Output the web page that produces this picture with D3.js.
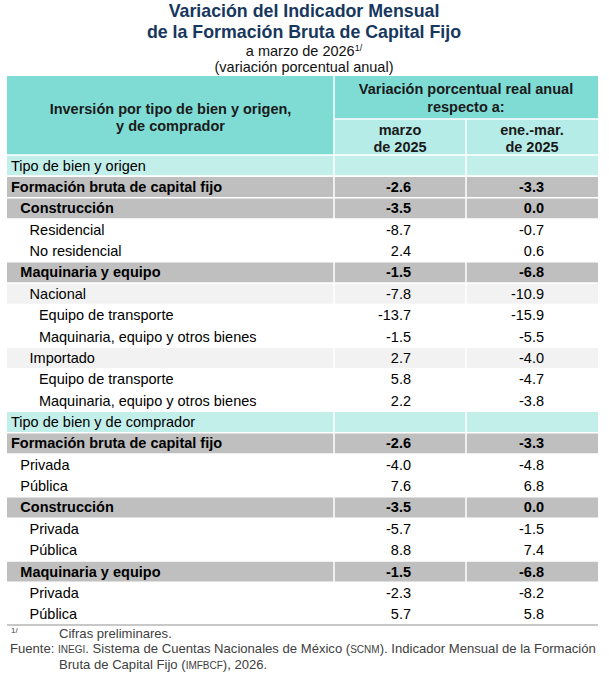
<!DOCTYPE html>
<html>
<head>
<meta charset="utf-8">
<script src="https://cdn.jsdelivr.net/npm/d3@7"></script>
<style>
  body { margin: 0; background: #fff; }
  svg text { font-family: "Liberation Sans", Arial, sans-serif; }
</style>
</head>
<body>
<div id="chart"></div>
<script>
// row labels, indent level and row kind
const labels = [
  'Tipo de bien y origen',
  'Formación bruta de capital fijo',
  'Construcción',
  'Residencial',
  'No residencial',
  'Maquinaria y equipo',
  'Nacional',
  'Equipo de transporte',
  'Maquinaria, equipo y otros bienes',
  'Importado',
  'Equipo de transporte',
  'Maquinaria, equipo y otros bienes',
  'Tipo de bien y de comprador',
  'Formación bruta de capital fijo',
  'Privada',
  'Pública',
  'Construcción',
  'Privada',
  'Pública',
  'Maquinaria y equipo',
  'Privada',
  'Pública'
];
const levels = [0, 0, 1, 2, 2, 1, 2, 3, 3, 2, 3, 3, 0, 0, 1, 1, 1, 2, 2, 1, 2, 2];
const kinds = ['section', 'total', 'total', 'plain', 'plain', 'total', 'sub', 'plain', 'plain', 'sub', 'plain', 'plain',
  'section', 'total', 'plain', 'plain', 'total', 'plain', 'plain', 'total', 'plain', 'plain'];
const marzo2025 = [null, -2.6, -3.5, -8.7, 2.4, -1.5, -7.8, -13.7, -1.5, 2.7, 5.8, 2.2,
  null, -2.6, -4.0, 7.6, -3.5, -5.7, 8.8, -1.5, -2.3, 5.7];
const eneMar2025 = [null, -3.3, 0.0, -0.7, 0.6, -6.8, -10.9, -15.9, -5.5, -4.0, -4.7, -3.8,
  null, -3.3, -4.8, 6.8, 0.0, -1.5, 7.4, -6.8, -8.2, 5.8];
const colHeads = [['marzo', 'de 2025'], ['ene.-mar.', 'de 2025']];

const W = 609, H = 680;
const left = 7, c1 = 334, c2 = 466, right = 598;
const headTop = 76, headMid = 119, bodyTop = 155, bodyBottom = 625;

const fill = { section: '#c3efeb', total: '#bfbfbf', sub: '#f2f2f2', plain: '#ffffff' };

const svg = d3.select('#chart').append('svg')
  .attr('width', W)
  .attr('height', H);

// title
const title = svg.append('g').attr('text-anchor', 'middle');
title.append('text').attr('x', 304).attr('y', 17)
  .style('font-size', '17.8px').style('font-weight', 'bold').style('fill', '#17375e')
  .text('Variación del Indicador Mensual');
title.append('text').attr('x', 304).attr('y', 38)
  .style('font-size', '17.8px').style('font-weight', 'bold').style('fill', '#17375e')
  .text('de la Formación Bruta de Capital Fijo');
const sub = title.append('text').attr('x', 304).attr('y', 56)
  .style('font-size', '14.5px').style('fill', '#111');
sub.append('tspan').text('a marzo de 2026');
sub.append('tspan').attr('dy', -5).style('font-size', '9px').text('1/');
title.append('text').attr('x', 304).attr('y', 72)
  .style('font-size', '14.5px').style('fill', '#111')
  .text('(variación porcentual anual)');

// header
const head = svg.append('g');
head.append('rect').attr('x', left).attr('y', headTop).attr('width', right - left).attr('height', headMid - headTop)
  .attr('fill', '#7fdcd5');
head.append('rect').attr('x', left).attr('y', headTop).attr('width', c1 - left).attr('height', bodyTop - headTop)
  .attr('fill', '#7fdcd5');
head.append('rect').attr('x', c1).attr('y', headMid).attr('width', right - c1).attr('height', bodyTop - headMid)
  .attr('fill', '#b5ece8');
head.append('line').attr('x1', c1).attr('x2', c1).attr('y1', headTop).attr('y2', bodyTop)
  .attr('stroke', '#fff').attr('stroke-width', 1.5);
head.append('line').attr('x1', c1).attr('x2', right).attr('y1', headMid).attr('y2', headMid)
  .attr('stroke', '#fff').attr('stroke-width', 1.5);
head.append('line').attr('x1', c2).attr('x2', c2).attr('y1', headMid).attr('y2', bodyTop)
  .attr('stroke', '#fff').attr('stroke-width', 1.5);

const headText = (x, y, t) => head.append('text').attr('x', x).attr('y', y)
  .attr('text-anchor', 'middle')
  .style('font-size', '14.5px').style('font-weight', 'bold').style('fill', '#1a1a1a')
  .text(t);
headText((left + c1) / 2, 114, 'Inversión por tipo de bien y origen,');
headText((left + c1) / 2, 131, 'y de comprador');
headText((c1 + right) / 2, 94, 'Variación porcentual real anual');
headText((c1 + right) / 2, 112, 'respecto a:');
colHeads.forEach((h, i) => {
  const cx = i === 0 ? (c1 + c2) / 2 : (c2 + right) / 2;
  headText(cx, 135, h[0]);
  headText(cx, 152, h[1]);
});

// body
const y = d3.scaleBand()
  .domain(d3.range(labels.length))
  .range([bodyTop, bodyBottom]);

// plain hyphen for negatives, as in the source table
const fmt = d3.formatLocale({ decimal: '.', thousands: ',', grouping: [3], currency: ['', ''], minus: '-' }).format('.1f');
const rows = svg.append('g').selectAll('g.row')
  .data(labels.map((l, i) => ({ label: l, level: levels[i], kind: kinds[i], v: [marzo2025[i], eneMar2025[i]] })))
  .join('g')
  .attr('class', 'row')
  .attr('transform', (d, i) => `translate(0,${y(i)})`);

rows.append('rect')
  .attr('x', left).attr('width', right - left)
  .attr('height', y.bandwidth())
  .attr('fill', d => fill[d.kind]);

rows.filter(d => d.kind !== 'plain')
  .append('line')
  .attr('x1', left).attr('x2', right).attr('y1', 0).attr('y2', 0)
  .attr('stroke', '#fff').attr('stroke-width', 1.5);
rows.filter(d => d.kind !== 'plain')
  .append('line')
  .attr('x1', left).attr('x2', right).attr('y1', y.bandwidth()).attr('y2', y.bandwidth())
  .attr('stroke', '#fff').attr('stroke-width', 1.5);
rows.filter(d => d.kind !== 'plain')
  .selectAll('line.v')
  .data([c1, c2])
  .join('line')
  .attr('class', 'v')
  .attr('x1', d => d).attr('x2', d => d).attr('y1', 0).attr('y2', y.bandwidth())
  .attr('stroke', '#fff').attr('stroke-width', 1.5);

const base = y.bandwidth() / 2 + 5;
rows.append('text')
  .attr('x', d => 11 + d.level * 9.3)
  .attr('y', base)
  .style('font-size', '14.5px')
  .style('font-weight', d => d.kind === 'total' ? 'bold' : 'normal')
  .style('fill', '#000')
  .text(d => d.label);

rows.selectAll('text.val')
  .data(d => d.v.map(v => ({ v, bold: d.kind === 'total' })))
  .join('text')
  .attr('class', 'val')
  .attr('x', (d, i) => i === 0 ? 411 : 544)
  .attr('y', base)
  .attr('text-anchor', 'end')
  .style('font-size', '14.5px')
  .style('font-weight', d => d.bold ? 'bold' : 'normal')
  .style('fill', '#000')
  .text(d => d.v === null ? '' : fmt(d.v));

svg.append('line')
  .attr('x1', left).attr('x2', right).attr('y1', bodyBottom).attr('y2', bodyBottom)
  .attr('stroke', '#c8c8c8').attr('stroke-width', 2);

// notes
const notes = svg.append('g').style('fill', '#404040');
notes.append('text').attr('x', 11).attr('y', 633).style('font-size', '8px').text('1/');
notes.append('text').attr('x', 59).attr('y', 638).style('font-size', '13.1px').text('Cifras preliminares.');
const src = notes.append('text').attr('x', 10).attr('y', 653).style('font-size', '13.1px');
src.append('tspan').text('Fuente: ');
src.append('tspan').style('font-size', '10px').text('INEGI');
src.append('tspan').text('. Sistema de Cuentas Nacionales de México (');
src.append('tspan').style('font-size', '10px').text('SCNM');
src.append('tspan').text('). Indicador Mensual de la Formación');
const src2 = notes.append('text').attr('x', 59).attr('y', 669).style('font-size', '13.1px');
src2.append('tspan').text('Bruta de Capital Fijo (');
src2.append('tspan').style('font-size', '10px').text('IMFBCF');
src2.append('tspan').text('), 2026.');
</script>
</body>
</html>
